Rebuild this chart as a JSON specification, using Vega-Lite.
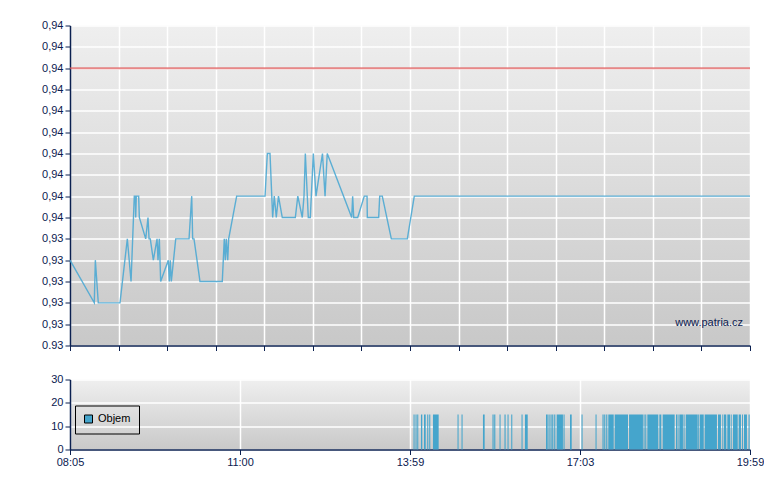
{
  "$schema": "https://vega.github.io/schema/vega-lite/v6.json",
  "background": "white",
  "padding": {"left": 30, "top": 19.5, "right": 0, "bottom": 0},
  "spacing": 22,
  "datasets": {
    "price": [
      {"t": 485.0, "p": 0.934}, {"t": 510.5, "p": 0.933}, {"t": 511.6, "p": 0.934}, {"t": 514.7, "p": 0.933},
      {"t": 537.5, "p": 0.933}, {"t": 545.2, "p": 0.9345}, {"t": 549.1, "p": 0.9335}, {"t": 552.5, "p": 0.9355},
      {"t": 553.6, "p": 0.9355}, {"t": 554.0, "p": 0.935}, {"t": 554.6, "p": 0.9355}, {"t": 557.1, "p": 0.9355},
      {"t": 557.8, "p": 0.935}, {"t": 564.5, "p": 0.9345}, {"t": 566.9, "p": 0.935}, {"t": 568.0, "p": 0.9345},
      {"t": 569.3, "p": 0.9345}, {"t": 572.5, "p": 0.934}, {"t": 576.4, "p": 0.9345}, {"t": 577.4, "p": 0.934},
      {"t": 578.8, "p": 0.9345}, {"t": 580.2, "p": 0.9335}, {"t": 588.2, "p": 0.934}, {"t": 589.3, "p": 0.9335},
      {"t": 590.3, "p": 0.934}, {"t": 591.4, "p": 0.9335}, {"t": 596.0, "p": 0.9345}, {"t": 610.0, "p": 0.9345},
      {"t": 612.8, "p": 0.9355}, {"t": 613.8, "p": 0.9345}, {"t": 615.2, "p": 0.9345}, {"t": 621.5, "p": 0.9335},
      {"t": 644.9, "p": 0.9335}, {"t": 647.0, "p": 0.9345}, {"t": 648.1, "p": 0.934}, {"t": 649.1, "p": 0.9345},
      {"t": 650.6, "p": 0.934}, {"t": 651.6, "p": 0.9345}, {"t": 660.0, "p": 0.9355}, {"t": 689.8, "p": 0.9355},
      {"t": 692.2, "p": 0.9365}, {"t": 695.0, "p": 0.9365}, {"t": 697.8, "p": 0.935}, {"t": 699.5, "p": 0.9355},
      {"t": 701.6, "p": 0.935}, {"t": 703.9, "p": 0.9355}, {"t": 707.9, "p": 0.935}, {"t": 721.6, "p": 0.935},
      {"t": 724.2, "p": 0.9355}, {"t": 728.9, "p": 0.935}, {"t": 730.7, "p": 0.9355}, {"t": 732.1, "p": 0.9365},
      {"t": 735.2, "p": 0.935}, {"t": 737.3, "p": 0.935}, {"t": 740.5, "p": 0.9365}, {"t": 743.3, "p": 0.9355},
      {"t": 750.1, "p": 0.9365}, {"t": 752.8, "p": 0.9355}, {"t": 755.1, "p": 0.9365}, {"t": 780.8, "p": 0.935},
      {"t": 781.8, "p": 0.9355}, {"t": 782.9, "p": 0.935}, {"t": 787.1, "p": 0.935}, {"t": 794.0, "p": 0.9355},
      {"t": 796.9, "p": 0.9355}, {"t": 797.2, "p": 0.935}, {"t": 809.1, "p": 0.935}, {"t": 810.2, "p": 0.9355},
      {"t": 812.9, "p": 0.9355}, {"t": 822.4, "p": 0.9345}, {"t": 839.2, "p": 0.9345}, {"t": 846.5, "p": 0.9355},
      {"t": 1199.0, "p": 0.9355}
    ],
    "reference": [{"p": 0.9385}],
    "watermark": [{"t": 1191.7, "p": 0.93252, "label": "www.patria.cz"}],
    "volume": [
      {"t0": 845.7, "t1": 846.8, "v": 15}, {"t0": 847.8, "t1": 848.9, "v": 15}, {"t0": 849.6, "t1": 850.7, "v": 15},
      {"t0": 853.5, "t1": 854.9, "v": 15}, {"t0": 856.7, "t1": 858.5, "v": 15}, {"t0": 860.1, "t1": 861.2, "v": 15},
      {"t0": 862.2, "t1": 863.3, "v": 15}, {"t0": 866.1, "t1": 872.1, "v": 15}, {"t0": 891.9, "t1": 893.0, "v": 15},
      {"t0": 896.1, "t1": 897.2, "v": 15}, {"t0": 918.6, "t1": 920.4, "v": 15}, {"t0": 928.6, "t1": 929.8, "v": 15},
      {"t0": 930.4, "t1": 931.6, "v": 15}, {"t0": 936.0, "t1": 937.1, "v": 15}, {"t0": 941.2, "t1": 942.4, "v": 15},
      {"t0": 944.4, "t1": 945.5, "v": 15}, {"t0": 948.3, "t1": 949.4, "v": 15}, {"t0": 959.1, "t1": 960.2, "v": 15},
      {"t0": 962.7, "t1": 965.6, "v": 15}, {"t0": 984.8, "t1": 986.6, "v": 15}, {"t0": 987.4, "t1": 988.6, "v": 15},
      {"t0": 989.5, "t1": 990.7, "v": 15}, {"t0": 991.3, "t1": 992.5, "v": 15}, {"t0": 993.4, "t1": 994.6, "v": 15},
      {"t0": 996.0, "t1": 1002.6, "v": 15}, {"t0": 1003.2, "t1": 1004.3, "v": 15}, {"t0": 1010.0, "t1": 1011.8, "v": 15},
      {"t0": 1022.1, "t1": 1023.2, "v": 15}, {"t0": 1036.8, "t1": 1037.9, "v": 15}, {"t0": 1044.1, "t1": 1045.3, "v": 15},
      {"t0": 1045.9, "t1": 1047.1, "v": 15}, {"t0": 1048.0, "t1": 1049.2, "v": 15}, {"t0": 1050.2, "t1": 1055.9, "v": 15},
      {"t0": 1056.9, "t1": 1070.9, "v": 15}, {"t0": 1072.0, "t1": 1086.6, "v": 15}, {"t0": 1087.2, "t1": 1088.3, "v": 15},
      {"t0": 1089.0, "t1": 1090.1, "v": 15}, {"t0": 1091.2, "t1": 1102.7, "v": 15}, {"t0": 1103.8, "t1": 1105.9, "v": 15},
      {"t0": 1107.3, "t1": 1119.9, "v": 15}, {"t0": 1121.3, "t1": 1122.4, "v": 15}, {"t0": 1122.9, "t1": 1124.0, "v": 15},
      {"t0": 1124.8, "t1": 1128.6, "v": 15}, {"t0": 1129.2, "t1": 1130.3, "v": 15}, {"t0": 1131.5, "t1": 1144.1, "v": 15},
      {"t0": 1144.6, "t1": 1145.8, "v": 15}, {"t0": 1146.5, "t1": 1150.4, "v": 15}, {"t0": 1151.4, "t1": 1164.3, "v": 15},
      {"t0": 1165.4, "t1": 1168.5, "v": 15}, {"t0": 1169.6, "t1": 1170.3, "v": 15}, {"t0": 1171.4, "t1": 1174.1, "v": 15},
      {"t0": 1175.2, "t1": 1178.3, "v": 15}, {"t0": 1179.4, "t1": 1180.1, "v": 15}, {"t0": 1181.1, "t1": 1186.1, "v": 15},
      {"t0": 1187.1, "t1": 1189.5, "v": 15}, {"t0": 1190.6, "t1": 1191.6, "v": 15}, {"t0": 1192.7, "t1": 1195.8, "v": 15},
      {"t0": 1196.9, "t1": 1197.4, "v": 15}, {"t0": 1198.3, "t1": 1199.0, "v": 15}
    ]
  },
  "vconcat": [
    {
      "width": 680,
      "height": 320,
      "view": {"stroke": null, "fill": {"gradient": "linear", "x1": 0, "y1": 0, "x2": 0, "y2": 1, "stops": [{"offset": 0, "color": "#efefef"}, {"offset": 1, "color": "#c8c8c8"}]}},
      "encoding": {
        "x": {"type": "quantitative", "scale": {"domain": [485, 1199], "nice": false, "zero": false},
              "axis": {"values": [485, 536, 587, 638, 689, 740, 791, 842, 893, 944, 995, 1046, 1097, 1148, 1199], "tickCount": 20, "labels": false, "title": null}},
        "y": {"type": "quantitative", "scale": {"domain": [0.932, 0.9395], "nice": false, "zero": false},
              "axis": {"values": [0.932, 0.9325, 0.933, 0.9335, 0.934, 0.9345, 0.935, 0.9355, 0.936, 0.9365, 0.937, 0.9375, 0.938, 0.9385, 0.939, 0.9395],
                       "tickCount": 20, "labelOverlap": false,
                       "labelExpr": "datum.value < 0.9322 ? '0.93' : (datum.value < 0.9347 ? '0,93' : '0,94')", "title": null, "minExtent": 40, "maxExtent": 40}}
      },
      "layer": [
        {
          "data": {"name": "price"},
          "mark": {"type": "line", "color": "#4ca9d3", "strokeWidth": 1.4, "opacity": 0.9},
          "encoding": {
            "x": {"field": "t", "type": "quantitative"},
            "y": {"field": "p", "type": "quantitative"}
          }
        },
        {
          "data": {"name": "reference"},
          "mark": {"type": "rule", "color": "#e05555", "strokeWidth": 2, "opacity": 0.7},
          "encoding": {"y": {"field": "p", "type": "quantitative"}}
        },
        {
          "data": {"name": "watermark"},
          "mark": {"type": "text", "align": "right", "baseline": "middle", "font": "Liberation Sans", "fontSize": 11, "color": "#0b2050"},
          "encoding": {"x": {"field": "t", "type": "quantitative"}, "y": {"field": "p", "type": "quantitative"}, "text": {"field": "label"}}
        }
      ]
    },
    {
      "width": 680,
      "height": 70,
      "view": {"stroke": null, "fill": {"gradient": "linear", "x1": 0, "y1": 0, "x2": 0, "y2": 1, "stops": [{"offset": 0, "color": "#efefef"}, {"offset": 1, "color": "#c9c9c9"}]}},
      "data": {"name": "volume"},
      "mark": {"type": "rect"},
      "encoding": {
        "x": {"field": "t0", "type": "quantitative", "scale": {"domain": [485, 1199], "nice": false, "zero": false},
              "axis": {"values": [485, 663.5, 842, 1020.5, 1199], "title": null,
                       "labelExpr": "datum.value < 500 ? '08:05' : (datum.value < 700 ? '11:00' : (datum.value < 900 ? '13:59' : (datum.value < 1100 ? '17:03' : '19:59')))"}},
        "x2": {"field": "t1"},
        "y": {"field": "v", "type": "quantitative", "scale": {"domain": [0, 30], "nice": false},
              "axis": {"values": [0, 10, 20, 30], "title": null, "minExtent": 40, "maxExtent": 40}},
        "y2": {"datum": 0},
        "color": {"datum": "Objem", "type": "nominal", "scale": {"range": ["#45a5cc"]},
                  "legend": {"title": null, "orient": "none", "legendX": 5, "legendY": 380, "strokeColor": "#000000", "padding": 8,
                             "symbolType": "square", "symbolSize": 64, "symbolStrokeColor": "#000000", "symbolStrokeWidth": 1,
                             "labelFont": "Liberation Sans", "labelFontSize": 11, "labelColor": "#000000", "labelOffset": 4}}
      }
    }
  ],
  "config": {
    "view": {"stroke": null},
    "axis": {
      "labelFont": "Liberation Sans", "labelFontSize": 11, "labelColor": "#0b2050", "labelFlush": false,
      "domainColor": "#0b2050", "domainWidth": 1.5, "tickColor": "#0b2050", "tickSize": 5, "tickWidth": 1,
      "gridColor": "#ffffff", "gridWidth": 1.5, "gridOpacity": 1, "labelPadding": 2
    }
  }
}
